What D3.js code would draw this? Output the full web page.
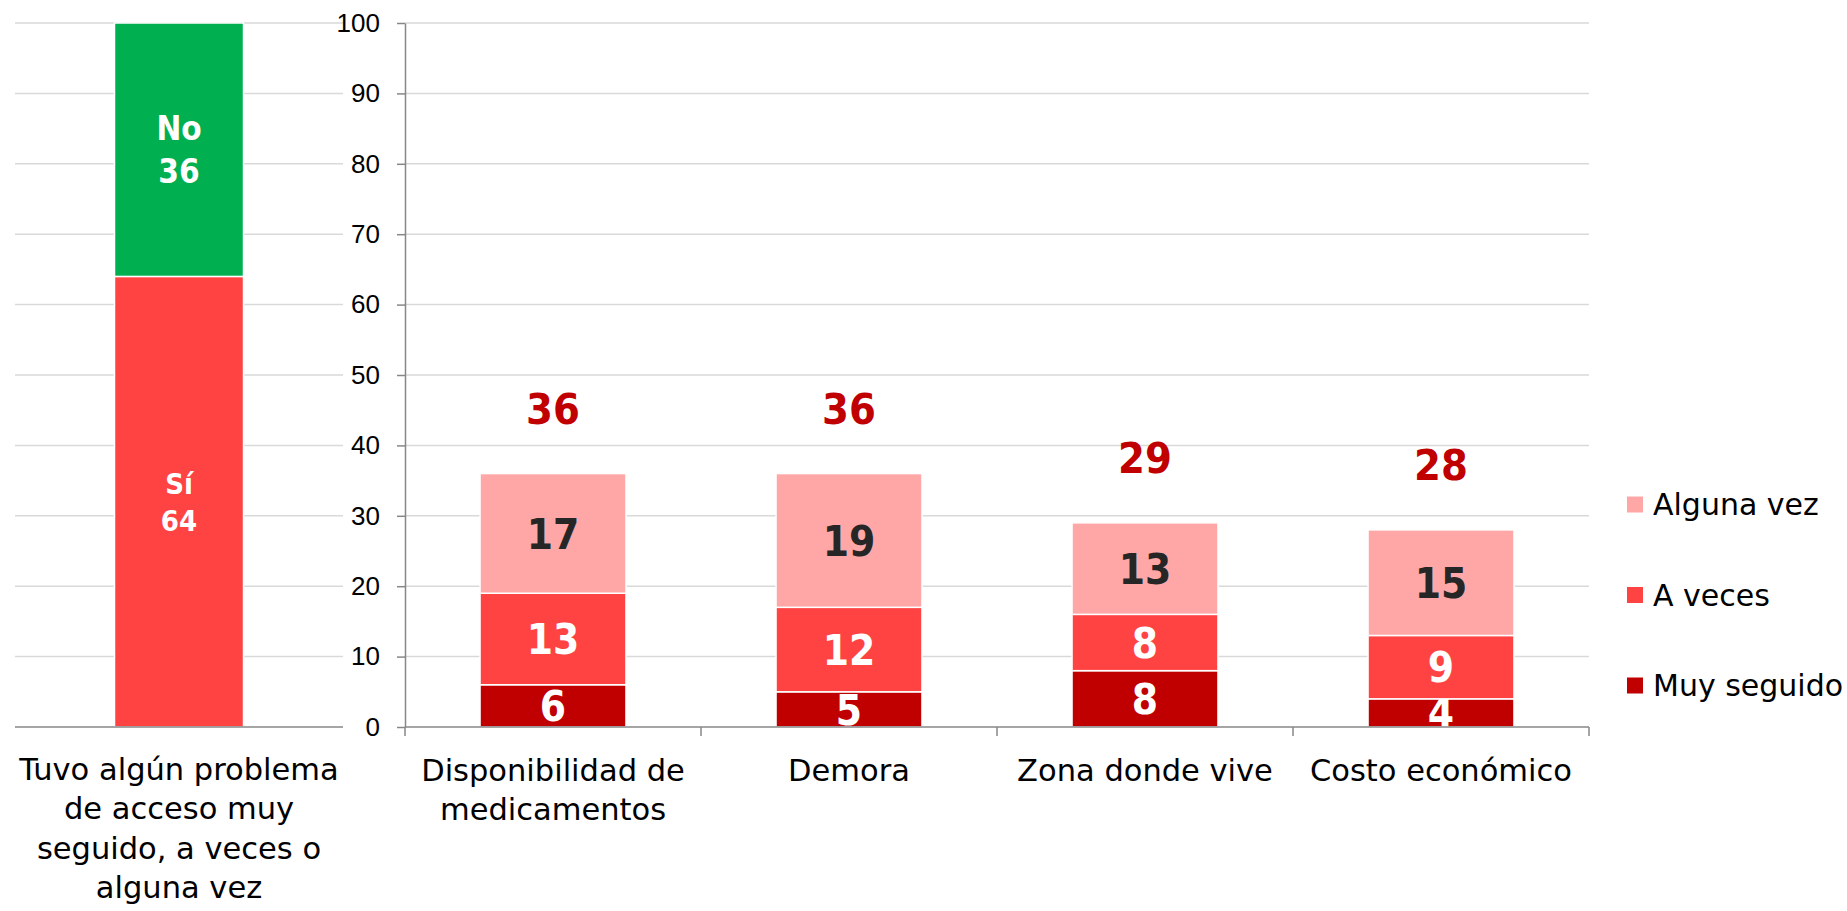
<!DOCTYPE html>
<html>
<head>
<meta charset="utf-8">
<script src="https://cdn.jsdelivr.net/npm/d3@7"></script>
<style>
  body { margin: 0; background: #ffffff; }
  svg { display: block; }
</style>
</head>
<body>
<svg id="svg-container"></svg>
<script>
/////////////////////////////////////////////
////////////// Data /////////////////////////
/////////////////////////////////////////////

// left panel - had any access problem
const problemLabel = ["Tuvo algún problema", "de acceso muy", "seguido, a veces o", "alguna vez"];
const problemKeys = ["Sí", "No"];
const problemValues = [64, 36];

// right panel - type of problem
const categories = ["Disponibilidad de medicamentos", "Demora", "Zona donde vive", "Costo económico"];
const categoryLines = [["Disponibilidad de", "medicamentos"], ["Demora"], ["Zona donde vive"], ["Costo económico"]];
const seriesNames = ["Muy seguido", "A veces", "Alguna vez"];
const muySeguido = [6, 5, 8, 4];
const aVeces = [13, 12, 8, 9];
const algunaVez = [17, 19, 13, 15];
const totals = [36, 36, 29, 28];

// y axis ticks
const yTicks = [0, 10, 20, 30, 40, 50, 60, 70, 80, 90, 100];

/////////////////////////////////////////////
////////////// Constants ////////////////////
/////////////////////////////////////////////
const width = 1847;
const height = 911;

const green = "#00b050";
const redMid = "#ff4343";
const redDark = "#c00000";
const pink = "#ffa7a7";
const gridColour = "#d9d9d9";
const axisColour = "#878787";
const seriesColours = [redDark, redMid, pink];
const labelColours = ["#ffffff", "#ffffff", "#262626"];

const sansFont = "'DejaVu Sans', sans-serif";
const boldFont = "'DejaVu Sans Condensed', 'DejaVu Sans', sans-serif";
const tickFont = "'Liberation Sans', Arial, sans-serif";

const svg = d3.select("#svg-container")
  .attr("width", width)
  .attr("height", height);

/// Scales ///
const yScale = d3.scaleLinear().domain([0, 100]).range([727, 23]);

const xRight = d3.scaleBand()
  .domain(categories)
  .range([405, 1589])
  .paddingInner(0.507)
  .paddingOuter(0.2535);

const xLeft = d3.scaleBand()
  .domain([problemLabel.join(" ")])
  .range([15, 343])
  .padding(0.4354);

/// Gridlines ///
const gridG = svg.append("g");
[[15, 343], [405, 1589]].forEach(([x0, x1]) => {
  gridG.selectAll(null)
    .data(yTicks.filter(d => d > 0))
    .join("line")
      .attr("x1", x0)
      .attr("x2", x1)
      .attr("y1", d => yScale(d))
      .attr("y2", d => yScale(d))
      .attr("stroke", gridColour)
      .attr("stroke-width", 1.5);
});

/////////////////////////////////////////////
///////////// Left panel ////////////////////
/////////////////////////////////////////////
const leftStack = [];
let acc = 0;
problemValues.forEach((v, i) => {
  leftStack.push({ key: problemKeys[i], value: v, y0: acc, y1: acc + v });
  acc += v;
});

const leftG = svg.append("g");
const lx = xLeft(problemLabel.join(" "));
leftG.selectAll("rect")
  .data(leftStack)
  .join("rect")
    .attr("x", lx)
    .attr("width", xLeft.bandwidth())
    .attr("y", d => yScale(d.y1))
    .attr("height", d => yScale(d.y0) - yScale(d.y1))
    .attr("fill", (d, i) => i === 0 ? redMid : green)
    .attr("stroke", "#ffffff")
    .attr("stroke-width", 1.5);

// labels inside left bar: key and value on two lines
leftStack.forEach((d, i) => {
  const cy = (yScale(d.y0) + yScale(d.y1)) / 2;
  const fs = i === 0 ? 29 : 33;
  const gap = i === 0 ? 37 : 43;
  [d.key, d.value].forEach((t, j) => {
    leftG.append("text")
      .attr("x", lx + xLeft.bandwidth() / 2)
      .attr("y", cy + (j - 0.5) * gap)
      .attr("dy", "0.36em")
      .attr("text-anchor", "middle")
      .attr("font-family", boldFont)
      .attr("font-stretch", "condensed")
      .attr("font-weight", "bold")
      .attr("font-size", fs)
      .attr("fill", "#ffffff")
      .text(t);
  });
});

// left baseline
leftG.append("line")
  .attr("x1", 15).attr("x2", 343)
  .attr("y1", yScale(0)).attr("y2", yScale(0))
  .attr("stroke", axisColour)
  .attr("stroke-width", 1.5);

// left category label
leftG.selectAll(".left-label")
  .data(problemLabel)
  .join("text")
    .classed("left-label", true)
    .attr("x", 179)
    .attr("y", (d, i) => 780 + i * 39.3)
    .attr("text-anchor", "middle")
    .attr("font-family", sansFont)
    .attr("font-size", 30.5)
    .attr("fill", "#000000")
    .text(d => d);

/////////////////////////////////////////////
///////////// Right panel ///////////////////
/////////////////////////////////////////////
const tableData = categories.map((c, i) => ({
  category: c,
  "Muy seguido": muySeguido[i],
  "A veces": aVeces[i],
  "Alguna vez": algunaVez[i],
  total: totals[i]
}));
const stacked = d3.stack().keys(seriesNames)(tableData);

const barsG = svg.append("g");
stacked.forEach((series, si) => {
  const g = barsG.append("g");
  g.selectAll("rect")
    .data(series)
    .join("rect")
      .attr("x", d => xRight(d.data.category))
      .attr("width", xRight.bandwidth())
      .attr("y", d => yScale(d[1]))
      .attr("height", d => yScale(d[0]) - yScale(d[1]))
      .attr("fill", seriesColours[si])
      .attr("stroke", "#ffffff")
      .attr("stroke-width", 1.5);

  g.selectAll("text")
    .data(series)
    .join("text")
      .attr("x", d => xRight(d.data.category) + xRight.bandwidth() / 2)
      .attr("y", d => (yScale(d[0]) + yScale(d[1])) / 2)
      .attr("dy", "0.36em")
      .attr("text-anchor", "middle")
      .attr("font-family", boldFont)
      .attr("font-stretch", "condensed")
      .attr("font-weight", "bold")
      .attr("font-size", 42)
      .attr("fill", labelColours[si])
      .text(d => d[1] - d[0]);
});

// totals above the bars
barsG.selectAll(".total-label")
  .data(tableData)
  .join("text")
    .classed("total-label", true)
    .attr("x", d => xRight(d.category) + xRight.bandwidth() / 2)
    .attr("y", d => yScale(d.total) - 65)
    .attr("dy", "0.36em")
    .attr("text-anchor", "middle")
    .attr("font-family", boldFont)
    .attr("font-stretch", "condensed")
    .attr("font-weight", "bold")
    .attr("font-size", 43)
    .attr("fill", redDark)
    .text(d => d.total);

/// Axes ///
const yAxis = g => g
  .attr("transform", `translate(405, 0)`)
  .call(d3.axisLeft(yScale).tickValues(yTicks).tickSize(8).tickPadding(17).tickSizeOuter(0))
  .call(g => g.select(".domain").attr("stroke", axisColour).attr("stroke-width", 1.5))
  .call(g => g.selectAll(".tick line").attr("stroke", axisColour).attr("stroke-width", 1.5))
  .call(g => g.selectAll(".tick text")
    .attr("font-family", tickFont)
    .attr("font-size", 26)
    .attr("fill", "#000000"));
svg.append("g").call(yAxis);

// bottom axis with ticks between categories
const xAxisG = svg.append("g");
xAxisG.append("line")
  .attr("x1", 405).attr("x2", 1589)
  .attr("y1", yScale(0)).attr("y2", yScale(0))
  .attr("stroke", axisColour)
  .attr("stroke-width", 1.5);
const step = xRight.step();
const boundaries = d3.range(categories.length + 1).map(i => xRight.range()[0] + i * step);
xAxisG.selectAll(".x-tick")
  .data(boundaries)
  .join("line")
    .classed("x-tick", true)
    .attr("x1", d => d).attr("x2", d => d)
    .attr("y1", yScale(0)).attr("y2", yScale(0) + 9)
    .attr("stroke", axisColour)
    .attr("stroke-width", 1.5);

// category labels
categoryLines.forEach((lines, i) => {
  xAxisG.selectAll(null)
    .data(lines)
    .join("text")
      .attr("x", xRight(categories[i]) + xRight.bandwidth() / 2)
      .attr("y", (d, j) => 781 + j * 39)
      .attr("text-anchor", "middle")
      .attr("font-family", sansFont)
      .attr("font-size", 30.5)
      .attr("fill", "#000000")
      .text(d => d);
});

/// Legend ///
const legendItems = seriesNames.map((n, i) => ({ name: n, colour: seriesColours[i] })).reverse();
const legendG = svg.append("g");
const legendItem = legendG.selectAll("g")
  .data(legendItems)
  .join("g")
    .attr("transform", (d, i) => `translate(1627, ${504.5 + i * 90.5})`);
legendItem.append("rect")
  .attr("x", 0).attr("y", -8)
  .attr("width", 16).attr("height", 16)
  .attr("fill", d => d.colour);
legendItem.append("text")
  .attr("x", 26)
  .attr("y", 0)
  .attr("dy", "0.36em")
  .attr("font-family", sansFont)
  .attr("font-size", 30)
  .attr("fill", "#000000")
  .text(d => d.name);
</script>
</body>
</html>
